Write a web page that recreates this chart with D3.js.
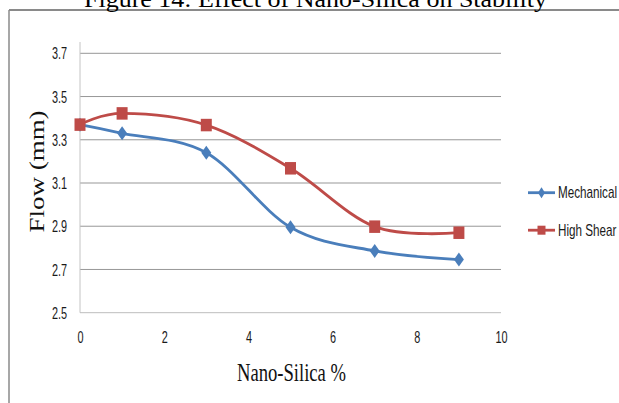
<!DOCTYPE html>
<html>
<head>
<meta charset="utf-8">
<script src="https://cdn.jsdelivr.net/npm/d3@7"></script>
<style>
  body { margin: 0; background: #fff; }
  svg { display: block; }
</style>
</head>
<body>
<svg id="chart" width="619" height="403"></svg>
<script>
const svg = d3.select("#chart");

// data
const nanoSilica = [0, 1, 3, 5, 7, 9];
const mechanical = [3.37, 3.33, 3.24, 2.895, 2.786, 2.746];
const highShear = [3.37, 3.422, 3.368, 3.168, 2.898, 2.87];
const seriesNames = ["Mechanical", "High Shear"];
const xTicks = [0, 2, 4, 6, 8, 10];
const yTicks = [2.5, 2.7, 2.9, 3.1, 3.3, 3.5, 3.7];

const blue = "#4a7ebb",
  red = "#be4b48";

const x = d3.scaleLinear().domain([0, 10]).range([80, 501]);
const y = d3.scaleLinear().domain([2.5, 3.7]).range([312.7, 53.3]);

// page frame and title (cut off at top)
svg.append("line").attr("x1", 9).attr("x2", 619).attr("y1", 10).attr("y2", 10)
  .attr("stroke", "#8a8a8a").attr("stroke-width", 2);
svg.append("line").attr("x1", 9).attr("x2", 9).attr("y1", 10).attr("y2", 403)
  .attr("stroke", "#8a8a8a").attr("stroke-width", 1.5);

svg.append("text")
  .attr("x", 84).attr("y", 7)
  .attr("font-family", "Liberation Serif")
  .attr("font-size", 24)
  .attr("textLength", 463)
  .attr("lengthAdjust", "spacingAndGlyphs")
  .text("Figure 14: Effect of Nano-Silica on Stability");

// gridlines
svg.append("g")
  .selectAll("line")
  .data(yTicks.slice(1))
  .join("line")
  .attr("x1", x(0)).attr("x2", x(10))
  .attr("y1", (d) => y(d)).attr("y2", (d) => y(d))
  .attr("stroke", "#979797").attr("stroke-width", 1);

// axes
const yAxis = svg.append("g")
  .attr("transform", `translate(${x(0)},0)`)
  .call(d3.axisLeft(y).tickValues(yTicks).tickSize(0).tickPadding(0).tickFormat(d3.format(".1f")));
yAxis.select(".domain").remove();
yAxis.append("line").attr("x1", 0).attr("x2", 0).attr("y1", 42).attr("y2", y(2.5))
  .attr("stroke", "#c4c4c4");

const xAxis = svg.append("g")
  .attr("transform", `translate(0,${y(2.5)})`)
  .call(d3.axisBottom(x).tickValues(xTicks).tickSize(0).tickPadding(0));
xAxis.select(".domain").remove();
xAxis.append("line").attr("x1", x(0)).attr("x2", x(10)).attr("y1", 0).attr("y2", 0)
  .attr("stroke", "#bdbdbd");

svg.selectAll(".tick text")
  .attr("font-family", "Liberation Sans")
  .attr("font-size", 16)
  .attr("fill", "#1a1a1a");
yAxis.selectAll(".tick text")
  .attr("x", 0).attr("dy", "0.35em")
  .attr("transform", "translate(-13,0) scale(0.68,1)");
xAxis.selectAll(".tick text")
  .attr("y", 0).attr("dy", 0)
  .attr("transform", "translate(0,30.5) scale(0.68,1)");

// axis titles
svg.append("text")
  .attr("transform", "translate(43.5,171.5) rotate(-90) scale(1,0.75)")
  .attr("text-anchor", "middle")
  .attr("font-family", "Liberation Serif")
  .attr("font-size", 27)
  .attr("fill", "#111")
  .text("Flow (mm)");

svg.append("text")
  .attr("x", 291.5).attr("y", 381)
  .attr("text-anchor", "middle")
  .attr("font-family", "Liberation Serif")
  .attr("font-size", 26)
  .attr("textLength", 109)
  .attr("lengthAdjust", "spacingAndGlyphs")
  .attr("fill", "#111")
  .text("Nano-Silica %");

// series
const curve = d3.line()
  .x((d) => x(d[0]))
  .y((d) => y(d[1]))
  .curve(d3.curveCardinal.tension(0));

const series = [
  { name: seriesNames[0], values: mechanical, color: blue, shape: "diamond" },
  { name: seriesNames[1], values: highShear, color: red, shape: "square" },
];

function markerPath(shape, w, h) {
  if (shape === "diamond")
    return `M0,${-h / 2}L${w / 2},0L0,${h / 2}L${-w / 2},0Z`;
  return `M${-w / 2},${-h / 2}h${w}v${h}h${-w}Z`;
}

series.forEach((s) => {
  const pts = nanoSilica.map((v, i) => [v, s.values[i]]);
  svg.append("path")
    .attr("d", curve(pts))
    .attr("fill", "none")
    .attr("stroke", s.color)
    .attr("stroke-width", 2.8);
  svg.append("g")
    .selectAll("path")
    .data(pts)
    .join("path")
    .attr("transform", (d) => `translate(${x(d[0])},${y(d[1])})`)
    .attr("d", s.shape === "diamond" ? markerPath("diamond", 10, 14) : markerPath("square", 11, 12.5))
    .attr("fill", s.color);
});

// legend
const legend = svg.append("g")
  .selectAll("g")
  .data(series)
  .join("g")
  .attr("transform", (d, i) => `translate(528,${192.7 + i * 37.5})`);
legend.append("line")
  .attr("x1", 0).attr("x2", 27)
  .attr("stroke", (d) => d.color)
  .attr("stroke-width", 2.8);
legend.append("path")
  .attr("transform", "translate(13.5,0)")
  .attr("d", (d) => d.shape === "diamond" ? markerPath("diamond", 7, 11) : markerPath("square", 8, 9))
  .attr("fill", (d) => d.color);
legend.append("text")
  .attr("transform", "translate(30,0) scale(0.73,1)")
  .attr("dy", "0.35em")
  .attr("font-family", "Liberation Sans")
  .attr("font-size", 16)
  .attr("fill", "#1a1a1a")
  .text((d) => d.name);
</script>
</body>
</html>
